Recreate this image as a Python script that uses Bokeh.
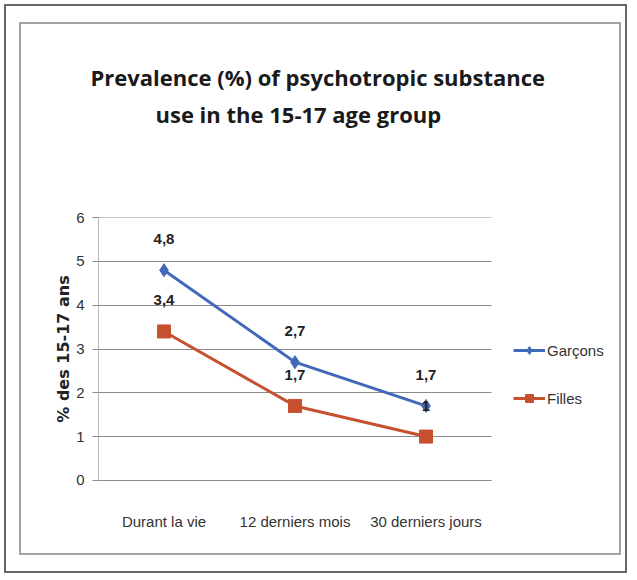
from bokeh.plotting import figure
from bokeh.layouts import column
from bokeh.models import (ColumnDataSource, FactorRange, Range1d, Legend, LegendItem,
                          LabelSet, Title, FixedTicker, Grid)
from bokeh.core.properties import value
from bokeh.embed import file_html
from bokeh.resources import INLINE

categories = ["Durant la vie", "12 derniers mois", "30 derniers jours"]
garcons = [4.8, 2.7, 1.7]
filles = [3.4, 1.7, 1.0]
y_ticks = [0, 1, 2, 3, 4, 5, 6]
title_line1 = "Prevalence (%) of psychotropic substance"
title_line2 = "use in the 15-17 age group"
y_label = "% des 15-17 ans"
legend_slot = " "   # empty slot on the right of the category axis that holds the legend

FONT = "Liberation Sans"

def fmt(v):
    return ("%g" % v).replace(".", ",")

src_g = ColumnDataSource(dict(x=categories, y=garcons, t=[fmt(v) for v in garcons]))
src_f = ColumnDataSource(dict(x=categories, y=filles, t=[fmt(v) for v in filles]))

p = figure(width=602, height=533, x_range=FactorRange(*categories, legend_slot),
           y_range=Range1d(-0.003, 6.003),
           output_backend="svg", toolbar_location=None,
           min_border_left=77, min_border_right=1, min_border_top=193, min_border_bottom=77,
           styles={"border": "2px solid #a4a4a4"})
p.background_fill_color = "white"
p.border_fill_color = "white"
p.outline_line_color = None

# grid
p.xgrid.grid_line_color = None
p.ygrid.ticker = FixedTicker(ticks=y_ticks)
p.ygrid.grid_line_color = "#8a8a8a"
p.ygrid.grid_line_width = 1.2
if "cross_bounds" in Grid.properties():
    p.ygrid.cross_bounds = (0, len(categories))
else:
    p.ygrid.grid_line_color = None
    p.segment(x0=[(categories[0], -0.5)] * len(y_ticks), y0=y_ticks,
              x1=[(categories[-1], 0.5)] * len(y_ticks), y1=y_ticks,
              line_color="#8a8a8a", line_width=1.2)

# y axis
p.yaxis.ticker = FixedTicker(ticks=y_ticks)
p.yaxis.axis_line_color = "#b8b8b8"
p.yaxis.major_tick_line_color = "#8a8a8a"
p.yaxis.major_tick_out = 6
p.yaxis.major_tick_in = 0
p.yaxis.minor_tick_line_color = None
p.yaxis.major_label_text_font = FONT
p.yaxis.major_label_text_font_size = "15px"
p.yaxis.major_label_text_color = "#333333"
p.yaxis.major_label_standoff = 8
p.yaxis.axis_label = y_label
p.yaxis.axis_label_text_font = "DejaVu Sans"
p.yaxis.axis_label_text_font_style = "bold"
p.yaxis.axis_label_text_font_size = "16px"
p.yaxis.axis_label_text_color = "#222222"
p.yaxis.axis_label_standoff = 0

# x axis
p.xaxis.bounds = (0, len(categories))
p.xaxis.axis_line_color = "#8a8a8a"
p.xaxis.major_tick_line_color = None
p.xaxis.major_label_text_font = FONT
p.xaxis.major_label_text_font_size = "15px"
p.xaxis.major_label_text_color = "#333333"
p.xaxis.major_label_standoff = 26

blue = "#4169b9"
red = "#c65030"

lg = p.line("x", "y", source=src_g, line_color=blue, line_width=3)
sg = p.scatter("x", "y", source=src_g, marker="diamond", size=13, fill_color=blue, line_color=blue)
lf = p.line("x", "y", source=src_f, line_color=red, line_width=3)
sf = p.scatter("x", "y", source=src_f, marker="square", size=13, fill_color=red, line_color=red)

for src in (src_g, src_f):
    p.add_layout(LabelSet(x="x", y="y", text="t", source=src, y_offset=31,
                          text_align="center", text_baseline="middle",
                          text_font=value(FONT), text_font_style="bold",
                          text_font_size="15px", text_color="#222222"))

legend = Legend(items=[LegendItem(label="Garçons", renderers=[lg, sg]),
                       LegendItem(label="Filles", renderers=[lf, sf])],
                location=(415, 72), border_line_color=None, background_fill_alpha=0,
                glyph_width=32, glyph_height=20, label_height=20, spacing=28,
                label_text_font=FONT, label_text_font_size="15px",
                label_text_color="#333333", label_standoff=2, padding=10, margin=0)
p.add_layout(legend, "center")

# titles (stacked outward from the frame)
has_standoff = "standoff" in Title.properties()
spacer = Title(text=" ", text_font_size="64px" if has_standoff else "72px")
t2 = Title(text=title_line2, align="left", offset=57, text_font="Open Sans",
           text_font_style="bold", text_font_size="22px", text_color="#1a1a1a")
t1 = Title(text=title_line1, align="left", offset=-8, text_font="Open Sans",
           text_font_style="bold", text_font_size="22px", text_color="#1a1a1a")
if has_standoff:
    t1.standoff = 0
p.add_layout(spacer, "above")
p.add_layout(t2, "above")
p.add_layout(t1, "above")

page = column(p, styles={"border": "2px solid #666666", "padding": "16px 4px 16px 13px",
                         "margin": "4px 0 0 4px"})

open("out.html", "w").write(file_html(page, INLINE))
